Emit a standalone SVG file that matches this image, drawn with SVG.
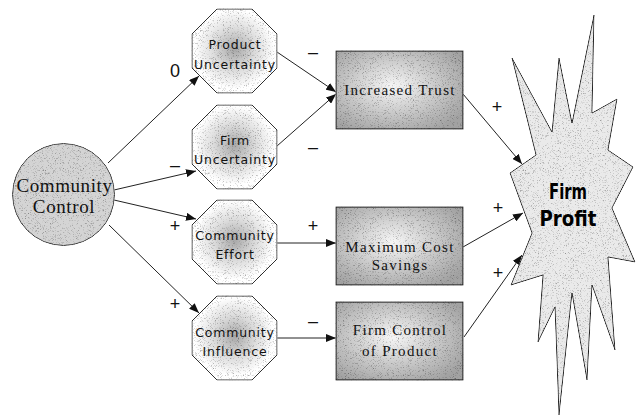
<svg xmlns="http://www.w3.org/2000/svg" width="642" height="419" viewBox="0 0 642 419">
<style>
.oct{stroke:#333;stroke-width:1;fill:url(#octG)}
.box{stroke:#222;stroke-width:1.2;fill:url(#boxG)}
.ot{font-family:"DejaVu Sans",sans-serif;font-size:12.5px;letter-spacing:0.8px;fill:#111;text-anchor:middle}
.bt{font-family:"Liberation Serif",serif;font-size:15px;letter-spacing:1.3px;fill:#111;text-anchor:middle}
.ct{font-family:"Liberation Serif",serif;font-size:19px;letter-spacing:0.6px;fill:#111;text-anchor:middle}
.sg{font-family:"Liberation Sans",sans-serif;font-size:18px;fill:#111;text-anchor:middle}
.ft{font-family:"DejaVu Sans Condensed","DejaVu Sans",sans-serif;font-weight:bold;font-size:20.5px;fill:#000;text-anchor:middle}
.edge{stroke:#222;stroke-width:1;fill:none;marker-end:url(#ah)}
</style>
<defs>
<filter id="grain" x="-5%" y="-5%" width="110%" height="110%" color-interpolation-filters="sRGB">
<feTurbulence type="fractalNoise" baseFrequency="1.6" numOctaves="1" seed="7" result="t"/>
<feColorMatrix in="t" type="matrix" values="1.3 0 0 0 0.42  1.3 0 0 0 0.42  1.3 0 0 0 0.42  0 0 0 0 1" result="g"/>
<feBlend in="SourceGraphic" in2="g" mode="multiply" result="m"/>
<feComposite in="m" in2="SourceGraphic" operator="in"/>
</filter>
<radialGradient id="octG" cx="50%" cy="48%" r="55%">
<stop offset="0" stop-color="#a8a8a8"/>
<stop offset="0.45" stop-color="#dcdcdc"/>
<stop offset="0.85" stop-color="#ffffff"/>
</radialGradient>
<radialGradient id="boxG" cx="45%" cy="45%" r="65%">
<stop offset="0" stop-color="#f6f6f6"/>
<stop offset="1" stop-color="#a2a2a2"/>
</radialGradient>
<marker id="ah" markerWidth="10" markerHeight="8" refX="10" refY="4" orient="auto" markerUnits="userSpaceOnUse">
<path d="M0,0 L10,4 L0,8 z" fill="#111"/>
</marker>
</defs>
<rect width="642" height="419" fill="#fff"/>

<g id="connectors">
<line class="edge" x1="108" y1="163" x2="199" y2="76"/>
<line class="edge" x1="114" y1="190" x2="196" y2="171"/>
<line class="edge" x1="114" y1="200" x2="196" y2="219"/>
<line class="edge" x1="109" y1="225" x2="199" y2="313"/>
<line class="edge" x1="277" y1="52" x2="336" y2="92"/>
<line class="edge" x1="277" y1="146" x2="336" y2="94"/>
<line class="edge" x1="277" y1="243" x2="336" y2="243"/>
<line class="edge" x1="277" y1="338" x2="336" y2="338"/>
<line class="edge" x1="463" y1="94" x2="522" y2="164"/>
<line class="edge" x1="463" y1="247" x2="523" y2="213"/>
<line class="edge" x1="464" y1="337" x2="522" y2="255"/>
<text class="sg" x="175" y="77">0</text>
<text class="sg" x="175" y="170.5">–</text>
<text class="sg" x="175" y="231.5">+</text>
<text class="sg" x="175" y="309.5">+</text>
<text class="sg" x="313" y="57.5">–</text>
<text class="sg" x="313" y="152.5">–</text>
<text class="sg" x="313" y="231.5">+</text>
<text class="sg" x="313" y="326.5">–</text>
<text class="sg" x="497" y="112.5">+</text>
<text class="sg" x="498" y="214">+</text>
<text class="sg" x="498" y="278.5">+</text>
</g>

<g id="community-control">
<circle cx="63.5" cy="194.5" r="51" fill="#d4d4d4" stroke="#333" stroke-width="1" filter="url(#grain)"/>
<text class="ct" x="64.5" y="191.5">Community</text>
<text class="ct" x="64" y="213">Control</text>
</g>

<g id="product-uncertainty">
<polygon class="oct" filter="url(#grain)" points="217,9 252,9 277,34 277,68 252,93 217,93 192,68 192,34"/>
<text class="ot" x="235" y="48.5">Product</text>
<text class="ot" x="235" y="68.5">Uncertainty</text>
</g>

<g id="firm-uncertainty">
<polygon class="oct" filter="url(#grain)" points="217,105 252,105 277,130 277,164 252,189 217,189 192,164 192,130"/>
<text class="ot" x="235" y="145">Firm</text>
<text class="ot" x="235" y="163.5">Uncertainty</text>
</g>

<g id="community-effort">
<polygon class="oct" filter="url(#grain)" points="217,200 252,200 277,225 277,259 252,284 217,284 192,259 192,225"/>
<text class="ot" x="235" y="240">Community</text>
<text class="ot" x="235" y="258.5">Effort</text>
</g>

<g id="community-influence">
<polygon class="oct" filter="url(#grain)" points="217,296 252,296 277,321 277,355 252,380 217,380 192,355 192,321"/>
<text class="ot" x="235" y="337">Community</text>
<text class="ot" x="235" y="356">Influence</text>
</g>

<g id="increased-trust">
<rect class="box" filter="url(#grain)" x="336" y="51" width="127" height="78"/>
<text class="bt" x="400" y="95">Increased Trust</text>
</g>

<g id="maximum-cost-savings">
<rect class="box" filter="url(#grain)" x="336" y="207" width="127" height="78"/>
<text class="bt" x="400" y="251.5">Maximum Cost</text>
<text class="bt" x="400" y="270">Savings</text>
</g>

<g id="firm-control-of-product">
<rect class="box" filter="url(#grain)" x="336" y="302" width="127" height="78"/>
<text class="bt" x="400" y="335">Firm Control</text>
<text class="bt" x="400" y="356">of Product</text>
</g>

<g id="firm-profit">
<polygon fill="#eaeaea" stroke="#222" stroke-width="1" filter="url(#grain)" points="512,58 552,132 559,58 572,123 594,15 592,113 617,99 608,150 633,167 612,208 635,262 608,257 615,350 592,285 587,380 572,293 559,415 555,307 538,342 543,275 511,285 532,233 510,173 536,155"/>
<text class="ft" x="568" y="199" textLength="38" lengthAdjust="spacingAndGlyphs">Firm</text>
<text class="ft" x="568" y="226" textLength="57" lengthAdjust="spacingAndGlyphs">Profit</text>
</g>
</svg>
